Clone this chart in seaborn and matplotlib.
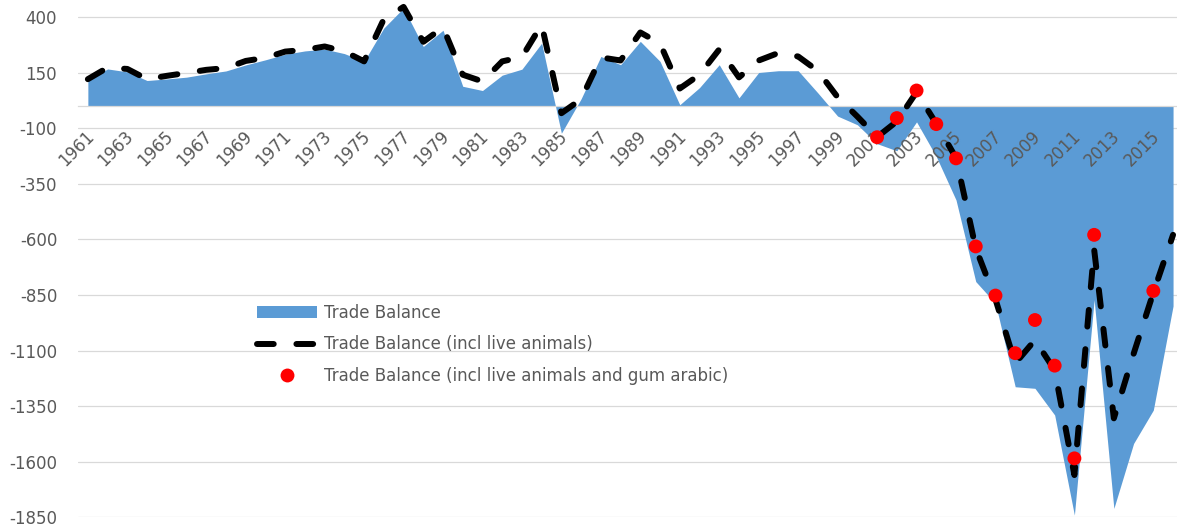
import numpy as np
import matplotlib
matplotlib.use("Agg")
import matplotlib.pyplot as plt
from matplotlib.patches import Patch
from matplotlib.lines import Line2D
from matplotlib.transforms import ScaledTranslation
import seaborn as sns

# Years on the category axis
years = list(range(1961, 2017))

# Trade balance (area)
trade_balance = [
    117, 166, 153, 114, 121, 129, 144, 157, 184, 207,
    232, 247, 255, 235, 200, 350, 440, 267, 340, 88,
    69, 138, 165, 282, -123, 32, 222, 185, 290, 200,
    5, 82, 185, 36, 150, 158, 158, 58, -46, -85,
    -170, -202, -72, -228, -423, -790, -888, -1263, -1270, -1390,
    -1840, -872, -1810, -1518, -1368, -900,
]

# Trade balance including live animals (dashed line)
incl_live_animals = [
    120, 172, 166, 120, 135, 148, 162, 170, 202, 216,
    244, 252, 267, 245, 200, 390, 445, 288, 353, 140,
    110, 200, 220, 365, -33, 30, 218, 204, 330, 280,
    78, 140, 254, 128, 204, 238, 222, 157, 39, -48,
    -140, -70, 62, -80, -234, -640, -870, -1158, -1053, -1188,
    -1660, -645, -1405, -1115, -840, -580,
]

# Trade balance including live animals and gum arabic (points)
incl_gum_arabic = [np.nan] * 40 + [
    -141, -55, 69, -82, -236, -632, -853, -1112, -963, -1168,
    -1585, -580, np.nan, np.nan, -832, np.nan,
]

y_ticks = [400, 150, -100, -350, -600, -850, -1100, -1350, -1600, -1850]
x_label_years = years[::2]

AREA_BLUE = "#5B9BD5"
TEXT_GREY = "#595959"
GRID_GREY = "#D9D9D9"

sns.set_style("white")
plt.rcParams["font.family"] = ["DejaVu Sans"]

fig = plt.figure(figsize=(11.77, 5.27), dpi=100)
ax = fig.add_axes([78 / 1177, 9.7 / 527, 1 - 78 / 1177, 517.3 / 527])

# horizontal gridlines behind everything
for v in y_ticks:
    ax.axhline(v, color=GRID_GREY, lw=0.9, zorder=0.5)

ax.fill_between(years, trade_balance, 0, color=AREA_BLUE, lw=0, zorder=1)

sns.lineplot(x=years, y=incl_live_animals, ax=ax, color="black", lw=4.3,
             linestyle=(0, (2.8, 3.8)), dash_capstyle="round",
             zorder=3, clip_on=False, legend=False)

sns.scatterplot(x=years, y=incl_gum_arabic, ax=ax, color="#FF0000", s=100,
                edgecolor="none", linewidth=0, zorder=4, clip_on=False,
                legend=False)

# y axis: labels only
ax.set_yticks(y_ticks)
ax.set_yticklabels([str(v) for v in y_ticks])
ax.tick_params(axis="y", length=0, pad=15, labelsize=12, labelcolor=TEXT_GREY)

# x axis sits on the zero line, ticks between categories
for side in ("top", "right", "left"):
    ax.spines[side].set_visible(False)
ax.spines["bottom"].set_position(("data", 0))
ax.spines["bottom"].set_color(GRID_GREY)
ax.spines["bottom"].set_linewidth(0.9)

ax.set_xticks(x_label_years)
ax.set_xticklabels([str(y) for y in x_label_years])
ax.set_xticks([y - 0.5 for y in years], minor=True)
ax.tick_params(axis="x", which="major", length=0, pad=15.5, labelsize=12,
               labelcolor=TEXT_GREY)
ax.tick_params(axis="x", which="minor", length=5.8, width=0.9,
               color=GRID_GREY, direction="out")
shift = ScaledTranslation(-3 / 100, 0, fig.dpi_scale_trans)
for lab in ax.get_xticklabels():
    lab.set_rotation(45)
    lab.set_ha("right")
    lab.set_rotation_mode("anchor")
    lab.set_transform(lab.get_transform() + shift)

# limits set last so the tick placement cannot widen them
ax.set_xlim(1960.5, 2016.2)
ax.set_ylim(-1850, 476)

ax.set_axisbelow(False)
ax.set_xlabel("")
ax.set_ylabel("")

handles = [
    Patch(facecolor=AREA_BLUE, edgecolor="none"),
    Line2D([], [], color="black", lw=4.3, linestyle=(0, (2.8, 3.8)),
           dash_capstyle="round"),
    Line2D([], [], color="#FF0000", marker="o", markersize=10, lw=0,
           markeredgewidth=0),
]
labels = [
    "Trade Balance",
    "Trade Balance (incl live animals)",
    "Trade Balance (incl live animals and gum arabic)",
]
leg = fig.legend(handles, labels, loc="upper left",
                 bbox_to_anchor=(257 / 1177, 1 - 304 / 527),
                 frameon=False, fontsize=12, handlelength=3.57,
                 handleheight=0.7, handletextpad=0.48, labelspacing=0.8,
                 borderpad=0, borderaxespad=0)
for t in leg.get_texts():
    t.set_color(TEXT_GREY)

fig.savefig("out.png", dpi=100)
